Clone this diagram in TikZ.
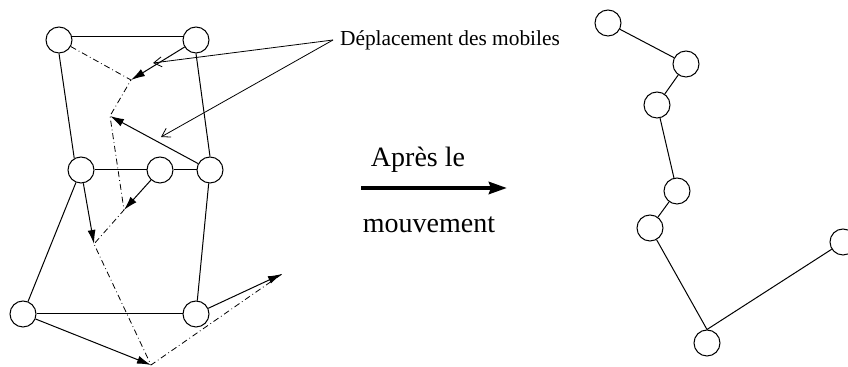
\documentclass[tikz,border=0pt]{standalone}
\usepackage{fontspec}
\setmainfont{Liberation Serif}
\usetikzlibrary{positioning}
\usetikzlibrary{arrows.meta}
\tikzset {
  % circled mobile style
  mobile/.style = {draw, circle, minimum size=13pt, inner sep=0pt, line width=0.5pt},
  % links between mobiles
  link/.style = {line width=0.5pt},
  % path through the new positions
  traj/.style = {line width=0.4pt, dash pattern=on 3pt off 1.5pt on 0.4pt off 1.5pt},
  % displacement of one mobile
  move/.style = {line width=0.5pt, -{Latex[length=7pt,width=4pt]}},
  % callout arrows
  note/.style = {line width=0.4pt, -{Straight Barb[length=4pt,width=5pt]}},
}

\begin{document}
\begin{tikzpicture}[x=0.5pt, y=-0.5pt]
        \useasboundingbox (0,0) rectangle (848,367);

        % before the move
        \node[mobile] (1) at (59,40) {};
        \node[mobile] (2) at (196,40) {};
        \node[mobile] (3) at (81,170) {};
        \node[mobile] (4) at (160,170) {};
        \node[mobile] (5) at (210,170) {};
        \node[mobile] (6) at (23,314) {};
        \node[mobile] (7) at (196,314) {};

        \coordinate (p1) at (131,80);
        \coordinate (p2) at (110,116);
        \coordinate (p3) at (124,210);
        \coordinate (p4) at (94,244);
        \coordinate (p5) at (151,365);
        \coordinate (p6) at (282,274);

        \draw [link] (1.15) -- (2.165);
        \draw [link] (1.south) -- (3.120);
        \draw [link] (2.south) -- (5.north);
        \draw [link] (3) -- (4);
        \draw [link] (4) -- (5);
        \draw [link] (3) -- (6);
        \draw [link] (5) -- (7);
        \draw [link] (6) -- (7);

        \draw [traj] (1) -- (p1) -- (p2) -- (p3) -- (p4) -- (p5) -- (p6);

        \draw [move] (2) -- (p1);
        \draw [move] (5) -- (p2);
        \draw [move] (4) -- (p3);
        \draw [move] (3) -- (p4);
        \draw [move] (6) -- (p5);
        \draw [move] (7) -- (p6);

        % callout
        \node[anchor=west, font=\fontsize{10.7}{12}\selectfont] (lbl) at (333,40) {Déplacement des mobiles};
        \coordinate (c1) at (153,63);
        \coordinate (c2) at (161,137);
        \draw [note] (lbl.west) -- (c1);
        \draw [note] (lbl.west) -- (c2);

        % middle arrow
        \coordinate (a) at (361,188);
        \coordinate (b) at (507,188);
        \draw [line width=2pt, -{Stealth[length=9pt,width=6pt,inset=1pt]}] (a) -- (b);
        \node[font=\fontsize{14}{16}\selectfont] (apres) at (418,160) {Après le};
        \node[font=\fontsize{14}{16}\selectfont] (mvt) at (429,225) {mouvement};

        % after the move
        \node[mobile] (8) at (608,23) {};
        \node[mobile] (9) at (686,64) {};
        \node[mobile] (10) at (657,105) {};
        \node[mobile] (11) at (677,191) {};
        \node[mobile] (12) at (650,228) {};
        \node[mobile] (13) at (843,242) {};
        \node[mobile] (14) at (707,343) {};

        \draw [link] (8) -- (9);
        \draw [link] (9) -- (10);
        \draw [link] (10) -- (11);
        \draw [link] (11) -- (12);
        \draw [link] (12) -- (14.north);
        \draw [link] (14.north) -- (13);
      \end{tikzpicture}
\end{document}
